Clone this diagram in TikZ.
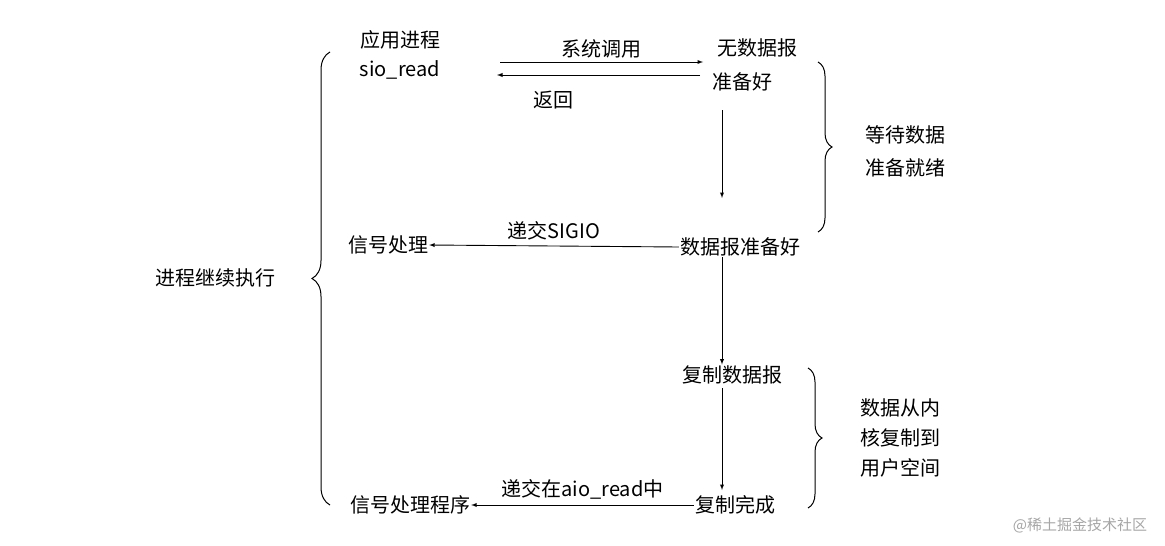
\documentclass[tikz,border=0pt]{standalone}
\usepackage{fontspec}
\setmainfont{Noto Sans CJK SC}
\usetikzlibrary{decorations.pathreplacing}
\begin{document}
\begin{tikzpicture}[x=1pt,y=-1pt,
  lbl/.style={font=\fontsize{20}{22}\selectfont,inner sep=1pt},
  arr/.style={-latex,line width=0.9pt},
  br/.style={decorate,decoration={brace,amplitude=14pt},line width=1pt}]
\useasboundingbox (0,0) rectangle (1165,546);
\node[lbl] (app) at (400,40) {应用进程};
\node[lbl] (sio) at (400,70) {sio\_read};
\node[lbl] (nd1) at (757,48) {无数据报};
\node[lbl] (nd2) at (742,82) {准备好};
\coordinate (a1s) at (500,62); \coordinate (a1e) at (703,62);
\draw[arr] (a1s) -- node[lbl,above=2pt]{系统调用} (a1e);
\coordinate (a2s) at (700,75); \coordinate (a2e) at (497,75);
\draw[arr] (a2s) -- (a2e);
\node[lbl] (ret) at (553,100) {返回};
\node[lbl] (w1) at (905,135) {等待数据};
\node[lbl] (w2) at (905,168) {准备就绪};
\draw[br] (818,62) -- (818,232);
\node[lbl] (rdy) at (740,247) {数据报准备好};
\node[lbl] (sig) at (388,245) {信号处理};
\draw[arr] (722,110) -- (722,198);
\draw[arr] (rdy.west) -- node[lbl,above=4pt]{递交SIGIO} (sig.east);
\node[lbl] (cp) at (732,375) {复制数据报};
\draw[arr] (rdy.south -| 722,0) -- (cp.north -| 722,0);
\node[lbl] (k1) at (900,408) {数据从内};
\node[lbl] (k2) at (900,438) {核复制到};
\node[lbl] (k3) at (900,468) {用户空间};
\draw[br] (808,368) -- (808,508);
\node[lbl] (done) at (735,505) {复制完成};
\node[lbl] (sp) at (410,505) {信号处理程序};
\draw[arr] (722,388) -- (722,490);
\draw[arr] (done.west) -- node[lbl,above=4pt]{递交在aio\_read中} (sp.east);
\draw[decorate,decoration={brace,amplitude=18pt,mirror},line width=1pt] (330,52) -- (330,505);
\node[lbl] (cont) at (215,278) {进程继续执行};
\node[font=\fontsize{15}{17}\selectfont,text=gray!70] (wm) at (1080,525) {@稀土掘金技术社区};
\end{tikzpicture}
\end{document}
